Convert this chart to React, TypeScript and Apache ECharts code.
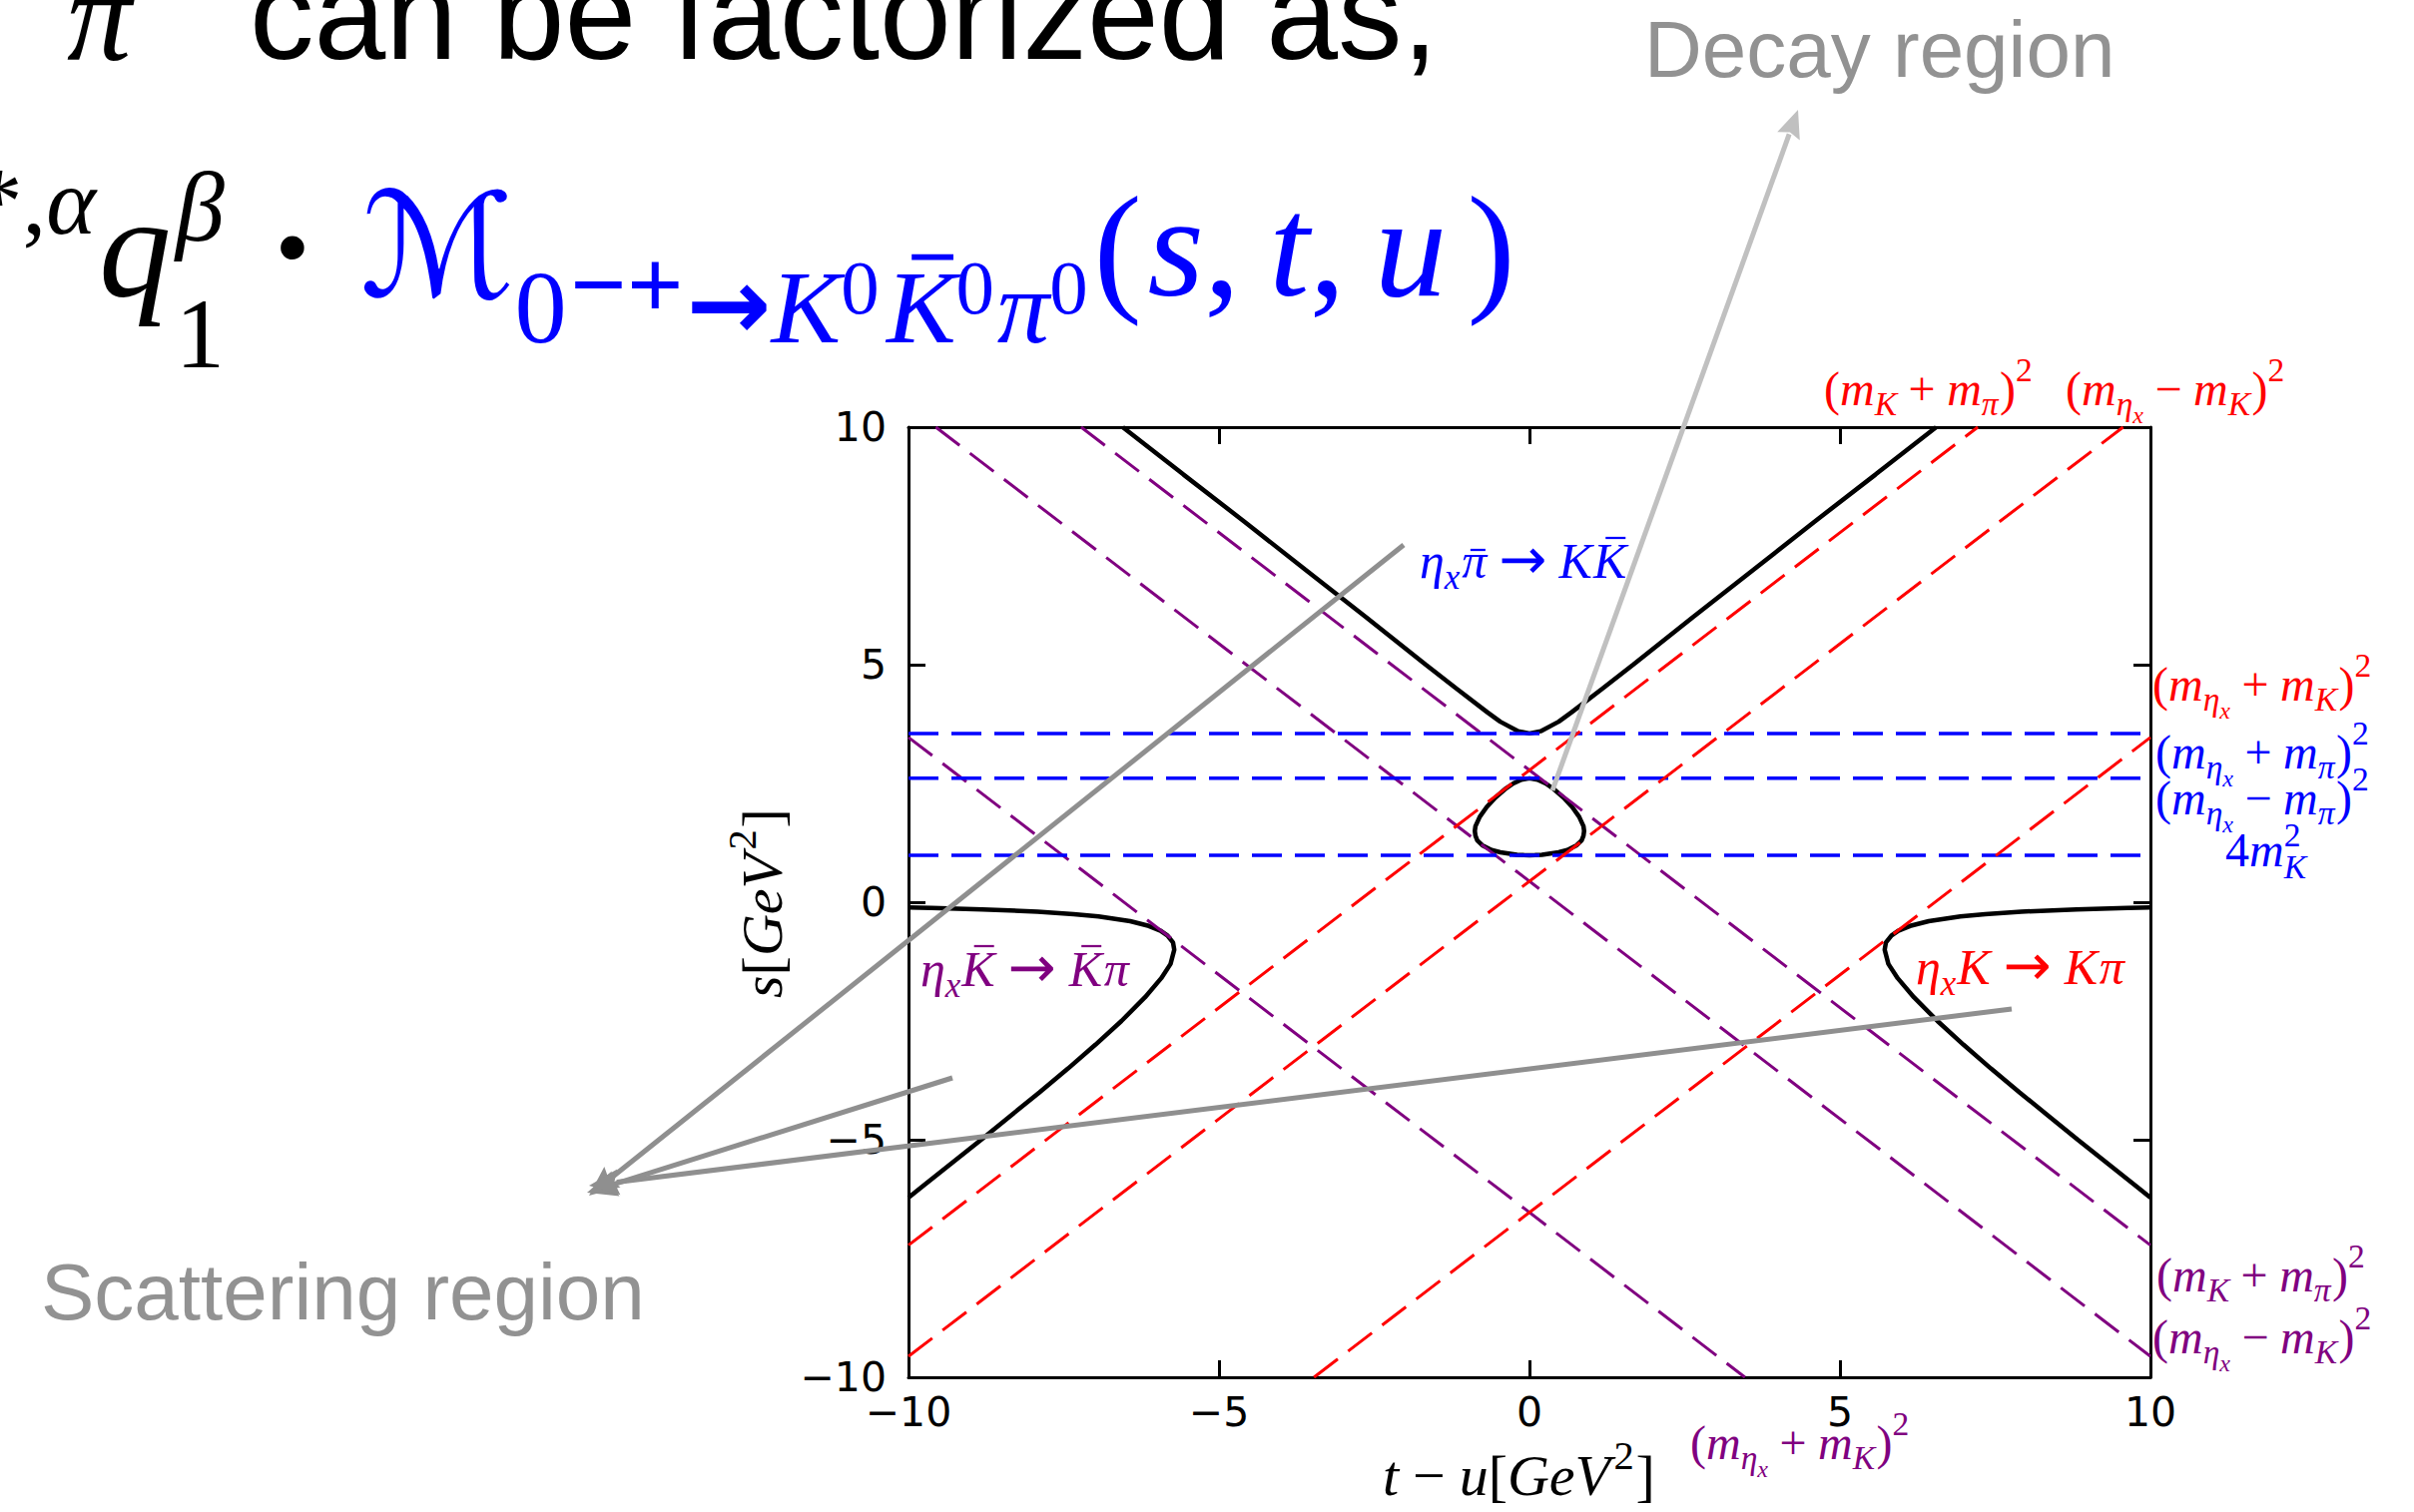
import React, { useEffect, useRef } from 'react';
import * as echarts from 'echarts';

// ---- axis range (t-u on x, s on y, both in GeV^2) ----
const AXIS_MIN = -10;
const AXIS_MAX = 10;
const AXIS_STEP = 5;

// ---- Dalitz boundary, [t-u, s] ----
// s-channel branch (eta_x pibar -> K Kbar)
const upperBranch: [number, number][] = [
  [-6.55, 10], [-5.57, 9], [-4.58, 8], [-3.61, 7], [-2.63, 6], [-1.67, 5], [-1.18, 4.5],
  [-0.68, 4.0], [-0.47, 3.8], [-0.18, 3.6], [0, 3.553], [0.18, 3.6], [0.47, 3.8], [0.68, 4.0],
  [1.18, 4.5], [1.67, 5], [2.63, 6], [3.61, 7], [4.58, 8], [5.57, 9], [6.55, 10],
];
// decay region (closed loop)
const decayLoop: [number, number][] = [
  [0, 0.99], [0.09, 0.992], [0.2, 1.0], [0.47, 1.05], [0.61, 1.1], [0.76, 1.2], [0.84, 1.3],
  [0.87, 1.4], [0.88, 1.5], [0.87, 1.6], [0.8, 1.8], [0.69, 2.0], [0.55, 2.2], [0.375, 2.4],
  [0.26, 2.5], [0.13, 2.58], [0, 2.608], [-0.13, 2.58], [-0.26, 2.5], [-0.375, 2.4],
  [-0.55, 2.2], [-0.69, 2.0], [-0.8, 1.8], [-0.87, 1.6], [-0.88, 1.5], [-0.87, 1.4],
  [-0.84, 1.3], [-0.76, 1.2], [-0.61, 1.1], [-0.47, 1.05], [-0.2, 1.0], [-0.09, 0.992], [0, 0.99],
];
// t-channel branch (eta_x K -> K pi)
const rightBranch: [number, number][] = [
  [10.0, -0.109], [9.63, -0.12], [8.81, -0.15], [7.92, -0.2], [7.34, -0.25], [6.94, -0.3],
  [6.43, -0.4], [6.13, -0.5], [5.94, -0.6], [5.83, -0.7], [5.74, -0.85], [5.72, -1.0],
  [5.78, -1.3], [5.93, -1.6], [6.19, -2.0], [6.57, -2.5], [6.99, -3.0], [7.43, -3.5],
  [7.89, -4.0], [8.36, -4.5], [8.83, -5.0], [9.31, -5.5], [9.79, -6.0], [10.0, -6.22],
];
// u-channel branch (eta_x Kbar -> Kbar pi)
const leftBranch: [number, number][] = [
  [-10.0, -0.109], [-9.63, -0.12], [-8.81, -0.15], [-7.92, -0.2], [-7.34, -0.25], [-6.94, -0.3],
  [-6.43, -0.4], [-6.13, -0.5], [-5.94, -0.6], [-5.83, -0.7], [-5.74, -0.85], [-5.72, -1.0],
  [-5.78, -1.3], [-5.93, -1.6], [-6.19, -2.0], [-6.57, -2.5], [-6.99, -3.0], [-7.43, -3.5],
  [-7.89, -4.0], [-8.36, -4.5], [-8.83, -5.0], [-9.31, -5.5], [-9.79, -6.0], [-10.0, -6.22],
];

// ---- thresholds ----
// constant-t lines (red): (mK+mpi)^2, (m_eta - mK)^2, (m_eta + mK)^2
const redLines: [number, number][][] = [
  [[-10, -7.22], [7.22, 10]],
  [[-10, -9.56], [9.56, 10]],
  [[-3.47, -10], [10, 3.47]],
];
// constant-u lines (purple)
const purpleLines: [number, number][][] = [
  [[-7.22, 10], [10, -7.22]],
  [[-9.56, 10], [10, -9.56]],
  [[-10, 3.47], [3.47, -10]],
];
// constant-s lines (blue): (m_eta + mpi)^2, (m_eta - mpi)^2, 4 mK^2
const blueLevels: number[] = [3.553, 2.608, 0.99];

const RED = '#ff0000';
const PURPLE = '#800080';
const BLUE = '#0000ff';
const SERIF = "'Liberation Serif', 'DejaVu Serif', serif";
const SANS = "'Liberation Sans', Arial, sans-serif";
const SCRIPT = "'DejaVu Serif', 'DejaVu Sans', serif";
const ARROWF = "'DejaVu Sans', sans-serif";

type Seg = {
  t: string; i?: boolean; b?: boolean; k?: number; y?: number; g?: number; dx?: number;
  o?: 'l'; bar?: boolean; c?: string; f?: string;
};

let measureCtx: CanvasRenderingContext2D | null = null;
function textWidth(text: string, size: number, family: string, italic: boolean, bold: boolean) {
  if (!measureCtx) measureCtx = document.createElement('canvas').getContext('2d');
  measureCtx!.font = `${italic ? 'italic' : 'normal'} ${bold ? 'bold' : 'normal'} ${size}px ${family}`;
  return measureCtx!.measureText(text).width;
}

// Lays out a run of math-like text pieces (sub/superscripts, overbars) from a baseline origin.
function mathText(x: number, y: number, size: number, color: string, segs: Seg[], rotation = 0, family = SERIF) {
  const children: any[] = [];
  let cursor = 0;
  let prevStart = 0;
  let prevW = 0;
  for (const s of segs) {
    if (s.bar) {
      // overbar above the previous glyph
      const off = (s.dx ?? 0) * size;
      const by = (s.y ?? 0) * size;
      children.push({
        type: 'line', z: 100,
        shape: { x1: prevStart + prevW * 0.28 + off, y1: by, x2: prevStart + prevW * 0.88 + off, y2: by },
        style: { stroke: s.c ?? color, lineWidth: size * (s.k ?? 0.045) },
      });
      continue;
    }
    const fs = size * (s.k ?? 1);
    const fam = s.f ?? family;
    const w = textWidth(s.t, fs, fam, !!s.i, !!s.b);
    let sx = s.o === 'l' ? prevStart : cursor + (s.g ?? 0) * size;
    sx += (s.dx ?? 0) * size;
    const baseY = (s.y ?? 0) * size;
    children.push({
      type: 'text',
      x: sx,
      y: baseY - 0.34 * fs,
      z: 100,
      style: {
        text: s.t,
        fontSize: fs,
        fontFamily: fam,
        fontStyle: s.i ? 'italic' : 'normal',
        fontWeight: s.b ? 'bold' : 'normal',
        fill: s.c ?? color,
        align: 'left',
        textAlign: 'left',
        verticalAlign: 'middle',
        textVerticalAlign: 'middle',
      },
    });
    if (!s.o) {
      prevStart = sx;
      prevW = w;
      cursor = sx + w;
    } else {
      cursor = Math.max(cursor, sx + w);
    }
  }
  return { type: 'group', x, y, rotation, z: 100, children };
}

const mEta: Seg[] = [{ t: 'm', i: true }, { t: 'η', i: true, k: 0.7, y: 0.2 }, { t: 'x', i: true, k: 0.5, y: 0.38 }];
const mK: Seg[] = [{ t: 'm', i: true }, { t: 'K', i: true, k: 0.7, y: 0.2 }];
const mPi: Seg[] = [{ t: 'm', i: true }, { t: 'π', i: true, k: 0.7, y: 0.2 }];
function squared(a: Seg[], op: string, b: Seg[]): Seg[] {
  return [
    { t: '(' }, ...a, { t: op, g: 0.24 }, { ...b[0], g: 0.24 }, ...b.slice(1), { t: ')', g: 0.03 },
    { t: '2', k: 0.7, y: -0.5 },
  ];
}

function arrow(x1: number, y1: number, x2: number, y2: number, color: string, width: number, len: number, half: number) {
  const dx = x2 - x1;
  const dy = y2 - y1;
  const d = Math.hypot(dx, dy);
  const ux = dx / d;
  const uy = dy / d;
  const bx = x2 - ux * len;
  const by = y2 - uy * len;
  return [
    { type: 'line', z: 100, shape: { x1, y1, x2: bx + ux * 2, y2: by + uy * 2 }, style: { stroke: color, lineWidth: width } },
    {
      type: 'polygon', z: 100,
      shape: { points: [[x2, y2], [bx - uy * half, by + ux * half], [bx + ux * len * 0.15, by + uy * len * 0.15], [bx + uy * half, by - ux * half]] },
      style: { fill: color },
    },
  ];
}

const minusFmt = (v: number) => (v < 0 ? '\u2212' + Math.abs(v) : String(v));

export default function App() {
  const ref = useRef<HTMLDivElement>(null);
  useEffect(() => {
    document.body.style.margin = '0';
    document.body.style.overflow = 'hidden';
    const chart = echarts.init(ref.current!, undefined, { renderer: 'svg' });

    const axisCommon = {
      type: 'value',
      min: AXIS_MIN,
      max: AXIS_MAX,
      interval: AXIS_STEP,
      splitLine: { show: false },
      axisLine: { show: true, onZero: false, lineStyle: { color: '#000', width: 3 } },
      axisTick: { show: true, inside: true, length: 17, lineStyle: { color: '#000', width: 3 } },
    };
    const tickLabel = { show: true, fontFamily: "'DejaVu Sans', sans-serif", fontSize: 41, color: '#000', formatter: minusFmt };

    const curve = (data: [number, number][]) => ({
      type: 'line', data, showSymbol: false, symbol: 'none', silent: true, z: 2,
      lineStyle: { color: '#000', width: 4.5 },
    });
    const dashed = (data: [number, number][], color: string, width: number) => ({
      type: 'line', data, showSymbol: false, symbol: 'none', silent: true, z: 3,
      lineStyle: { color, width, type: [30, 13] },
    });

    const graphics: any[] = [
      // slide text
      mathText(67, 60, 129, '#000', [{ t: 'π', i: true }]),
      mathText(250, 58, 129, '#000', [{ t: 'can be factorized as,' }], 0, SANS),
      mathText(-25, 234, 95, '#000', [{ t: '*' }, { t: ',' }, { t: 'α', i: true }]),
      mathText(99, 296, 145, '#000', [
        { t: 'q', i: true },
        { t: 'β', i: true, k: 0.68, y: -0.38, g: 0.03 },
        { t: '1', k: 0.68, y: 0.5, o: 'l' },
        { t: '·', g: 0.3, b: true },
        { t: 'ℳ', c: BLUE, f: SCRIPT, g: 0.3 },
        { t: '0', k: 0.72, y: 0.33, c: BLUE },
        { t: '−+', k: 0.69, y: 0.165, c: BLUE, b: true, g: 0.02 },
        { t: '→', k: 0.7, y: 0.3, c: BLUE, b: true, f: ARROWF, g: 0.02 },
        { t: 'K', i: true, k: 0.72, y: 0.33, c: BLUE },
        { t: '0', k: 0.53, y: 0.13, c: BLUE },
        { t: 'K', i: true, k: 0.72, y: 0.33, c: BLUE, g: 0.05 },
        { t: '', bar: true, y: -0.265, dx: 0.04, k: 0.04, c: BLUE },
        { t: '0', k: 0.53, y: 0.13, c: BLUE },
        { t: 'π', i: true, k: 0.72, y: 0.33, c: BLUE, g: 0.02 },
        { t: '0', k: 0.53, y: 0.13, c: BLUE },
        { t: '(', c: BLUE, g: 0.04 },
        { t: 's', i: true, c: BLUE, g: 0.04 },
        { t: ',', c: BLUE },
        { t: 't', i: true, c: BLUE, g: 0.2 },
        { t: ',', c: BLUE },
        { t: 'u', i: true, c: BLUE, g: 0.2 },
        { t: ')', c: BLUE, g: 0.14 },
      ]),
      mathText(1647, 77, 80, '#929292', [{ t: 'Decay region' }], 0, SANS),
      mathText(41, 1322, 80, '#929292', [{ t: 'Scattering region' }], 0, SANS),

      // axis titles
      mathText(1385, 1498, 58, '#000', [
        { t: 't', i: true }, { t: '−', g: 0.24 }, { t: 'u', i: true, g: 0.24 }, { t: '[' },
        { t: 'G', i: true }, { t: 'e', i: true }, { t: 'V', i: true }, { t: '2', k: 0.7, y: -0.45, g: 0.06 }, { t: ']', g: 0.03 },
      ]),
      mathText(783, 1000, 58, '#000', [
        { t: 's', i: true }, { t: '[' }, { t: 'G', i: true }, { t: 'e', i: true }, { t: 'V', i: true },
        { t: '2', k: 0.7, y: -0.45, g: 0.06 }, { t: ']', g: 0.03 },
      ], Math.PI / 2),

      // channel labels
      mathText(1422, 579, 50, BLUE, [
        { t: 'η', i: true }, { t: 'x', i: true, k: 0.7, y: 0.22 }, { t: 'π', i: true, g: 0.04 },
        { t: '', bar: true, y: -0.56, dx: 0.03 }, { t: '→', f: ARROWF, k: 1.15, y: 0.03, g: 0.24 }, { t: 'K', i: true, g: 0.24 },
        { t: 'K', i: true, g: 0.02 }, { t: '', bar: true, y: -0.8, dx: 0.06 },
      ]),
      mathText(922, 988, 50, PURPLE, [
        { t: 'η', i: true }, { t: 'x', i: true, k: 0.7, y: 0.22 }, { t: 'K', i: true, g: 0.02 },
        { t: '', bar: true, y: -0.8, dx: 0.06 }, { t: '→', f: ARROWF, k: 1.15, y: 0.03, g: 0.26 }, { t: 'K', i: true, g: 0.26 },
        { t: '', bar: true, y: -0.8, dx: 0.06 }, { t: 'π', i: true, g: 0.03 },
      ]),
      mathText(1919, 986, 50, RED, [
        { t: 'η', i: true }, { t: 'x', i: true, k: 0.7, y: 0.22 }, { t: 'K', i: true, g: 0.02 },
        { t: '→', f: ARROWF, k: 1.15, y: 0.03, g: 0.26 }, { t: 'K', i: true, g: 0.26 }, { t: 'π', i: true, g: 0.03 },
      ]),

      // threshold labels
      mathText(1827, 406, 48, RED, squared(mK, '+', mPi)),
      mathText(2069, 406, 48, RED, squared(mEta, '−', mK)),
      mathText(2156, 702, 48, RED, squared(mEta, '+', mK)),
      mathText(2159, 770, 48, BLUE, squared(mEta, '+', mPi)),
      mathText(2159, 816, 48, BLUE, squared(mEta, '−', mPi)),
      mathText(2229, 868, 48, BLUE, [
        { t: '4' }, { t: 'm', i: true }, { t: 'K', i: true, k: 0.7, y: 0.25 }, { t: '2', k: 0.7, y: -0.42, o: 'l' },
      ]),
      mathText(2160, 1294, 48, PURPLE, squared(mK, '+', mPi)),
      mathText(2156, 1356, 48, PURPLE, squared(mEta, '−', mK)),
      mathText(1693, 1462, 48, PURPLE, squared(mEta, '+', mK)),

      // pointers
      ...arrow(1555, 792, 1801, 110, '#c0c0c0', 5, 28, 12),
      ...arrow(1406, 546, 590, 1198, '#8f8f8f', 5, 30, 13),
      ...arrow(954, 1080, 588, 1195, '#8f8f8f', 5, 30, 13),
      ...arrow(2015, 1011, 590, 1188, '#8f8f8f', 5, 30, 13),
    ];

    chart.setOption({
      animation: false,
      backgroundColor: '#ffffff',
      grid: { left: 910, top: 428, width: 1244, height: 952, containLabel: false },
      xAxis: [
        { ...axisCommon, position: 'bottom', axisLabel: { ...tickLabel, margin: 14 } },
        { ...axisCommon, position: 'top', axisLabel: { show: false } },
      ],
      yAxis: [
        { ...axisCommon, position: 'left', axisLabel: { ...tickLabel, margin: 22 } },
        { ...axisCommon, position: 'right', axisLabel: { show: false } },
      ],
      series: [
        curve(upperBranch),
        curve(decayLoop),
        curve(rightBranch),
        curve(leftBranch),
        ...purpleLines.map((l) => dashed(l, PURPLE, 3)),
        ...blueLevels.map((v) => dashed([[AXIS_MIN, v], [AXIS_MAX, v]], BLUE, 3.5)),
        ...redLines.map((l) => dashed(l, RED, 3)),
      ],
      graphic: { elements: graphics },
    });
    return () => chart.dispose();
  }, []);
  return <div ref={ref} style={{ width: 2418, height: 1515 }} />;
}
